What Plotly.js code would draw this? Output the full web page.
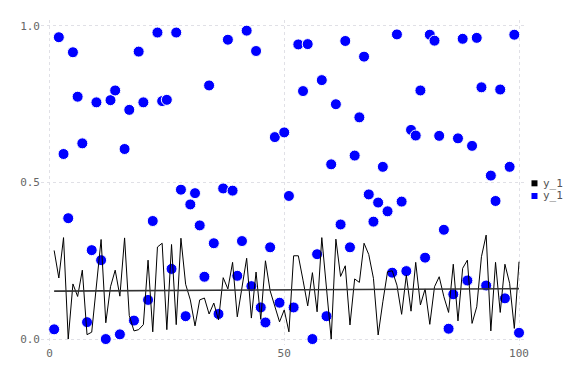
<!DOCTYPE html>
<html>
<head>
<meta charset="utf-8">
<script src="https://cdn.plot.ly/plotly-3.0.1.min.js"></script>
<style>html,body{margin:0;padding:0;background:#fff;}#chart{width:576px;height:384px;}</style>
</head>
<body>
<div id="chart"></div>
<script>
// x positions 1..100
const xValues = [1,2,3,4,5,6,7,8,9,10,11,12,13,14,15,16,17,18,19,20,21,22,23,24,25,26,27,28,29,30,31,32,33,34,35,36,37,38,39,40,41,42,43,44,45,46,47,48,49,50,51,52,53,54,55,56,57,58,59,60,61,62,63,64,65,66,67,68,69,70,71,72,73,74,75,76,77,78,79,80,81,82,83,84,85,86,87,88,89,90,91,92,93,94,95,96,97,98,99,100];

// blue scatter series
const scatterY = [0.031,0.964,0.591,0.386,0.916,0.774,0.625,0.054,0.284,0.756,
  0.252,0.0,0.763,0.794,0.015,0.607,0.732,0.059,0.918,0.756,
  0.125,0.377,0.979,0.760,0.764,0.224,0.979,0.477,0.073,0.430,
  0.466,0.363,0.199,0.810,0.306,0.080,0.481,0.956,0.474,0.202,
  0.313,0.985,0.169,0.920,0.101,0.053,0.293,0.645,0.116,0.660,
  0.457,0.101,0.941,0.792,0.942,0.0,0.271,0.827,0.073,0.558,
  0.750,0.366,0.952,0.293,0.586,0.708,0.902,0.462,0.375,0.436,
  0.550,0.408,0.212,0.973,0.439,0.217,0.668,0.650,0.794,0.260,
  0.972,0.953,0.649,0.349,0.033,0.143,0.641,0.959,0.187,0.617,
  0.962,0.804,0.171,0.522,0.441,0.797,0.130,0.550,0.972,0.020];

// black jagged line series
const lineY = [0.283,0.195,0.324,0.0,0.176,0.136,0.220,0.014,0.022,0.170,
  0.318,0.052,0.167,0.220,0.137,0.323,0.075,0.026,0.030,0.046,
  0.252,0.023,0.294,0.306,0.030,0.302,0.046,0.322,0.175,0.125,
  0.042,0.125,0.131,0.080,0.115,0.061,0.196,0.160,0.245,0.071,
  0.167,0.258,0.067,0.214,0.063,0.250,0.154,0.103,0.055,0.093,
  0.023,0.266,0.266,0.188,0.106,0.212,0.087,0.324,0.160,0.0,
  0.319,0.200,0.234,0.045,0.192,0.181,0.306,0.270,0.194,0.013,
  0.119,0.215,0.218,0.172,0.079,0.204,0.089,0.245,0.109,0.160,
  0.047,0.167,0.199,0.135,0.085,0.239,0.058,0.226,0.252,0.050,
  0.103,0.263,0.332,0.026,0.245,0.085,0.239,0.178,0.034,0.247];

// near-flat trend line end points
const fitX = [1, 100];
const fitY = [0.153, 0.161];

// tick labels
const xTicks = [0, 50, 100];
const xTickText = ['0', '50', '100'];
const yTicks = [0, 0.5, 1];
const yTickText = ['0.0', '0.5', '1.0'];

// legend entries
const legendNames = ['y_1', 'y_1'];
const legendColors = ['#000000', '#0000ff'];

const mono = 'DejaVu Sans Mono, monospace';

const traces = [
  {
    type: 'scatter', mode: 'markers', x: xValues, y: scatterY,
    marker: {color: '#0000ff', size: 11, line: {color: '#ffffff', width: 1}},
    showlegend: false, hoverinfo: 'skip'
  },
  {
    type: 'scatter', mode: 'lines', x: xValues, y: lineY,
    line: {color: '#000000', width: 1},
    showlegend: false, hoverinfo: 'skip'
  },
  {
    type: 'scatter', mode: 'lines', x: fitX, y: fitY,
    line: {color: '#333333', width: 1.6},
    showlegend: false, hoverinfo: 'skip'
  }
];

const legendY = [0.4975, 0.4585];
const shapes = legendNames.map((n, i) => ({
  type: 'rect', xref: 'paper', yref: 'paper',
  xsizemode: 'pixel', ysizemode: 'pixel',
  xanchor: 1.0154, yanchor: legendY[i],
  x0: -3, x1: 3, y0: -3, y1: 3,
  fillcolor: legendColors[i], line: {width: 0}
}));
const annotations = legendNames.map((n, i) => ({
  xref: 'paper', yref: 'paper', x: 1.029, y: legendY[i],
  xanchor: 'left', yanchor: 'middle', showarrow: false,
  text: n, font: {family: mono, size: 11, color: '#555555'}
}));

const layout = {
  width: 576, height: 384,
  margin: {l: 40.5, r: 49, t: 20, b: 39, pad: 0},
  paper_bgcolor: '#ffffff', plot_bgcolor: '#ffffff',
  showlegend: false,
  font: {family: mono, size: 11, color: '#666666'},
  xaxis: {
    range: [-1.8, 101.7], tickvals: xTicks, ticktext: xTickText,
    showline: false, zeroline: false, ticks: '',
    showgrid: true, gridcolor: '#e0e0e6', griddash: 'dot', gridwidth: 1,
    tickfont: {family: mono, size: 11, color: '#666666'}
  },
  yaxis: {
    range: [-0.019, 1.019], tickvals: yTicks, ticktext: yTickText,
    showline: false, zeroline: false, ticks: '',
    showgrid: true, gridcolor: '#e0e0e6', griddash: 'dot', gridwidth: 1,
    tickfont: {family: mono, size: 11, color: '#666666'}
  },
  shapes: shapes,
  annotations: annotations
};

Plotly.newPlot('chart', traces, layout, {displayModeBar: false, staticPlot: true});
</script>
</body>
</html>
